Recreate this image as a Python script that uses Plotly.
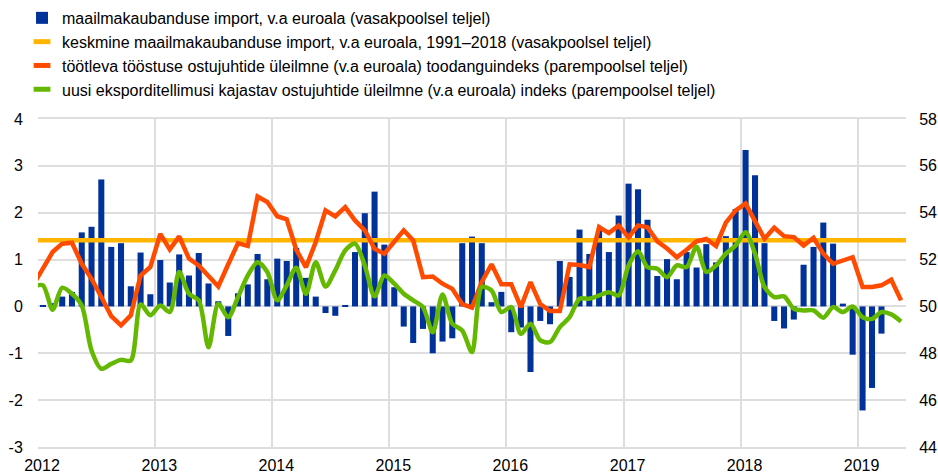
import pandas as pd
import plotly.graph_objects as go

# ---------------- data ----------------
bar_months = pd.date_range("2012-01-01", "2019-03-01", freq="MS").strftime("%Y-%m-%d").tolist()
line_months = pd.date_range("2011-12-01", "2019-05-01", freq="MS").strftime("%Y-%m-%d").tolist()

world_imports = [
    0.02, 0.07, 0.21, 0.31, 1.58, 1.70, 2.71, 1.27, 1.35, 0.43, 1.15, 0.26,
    0.99, 0.51, 1.11, 0.66, 1.14, 0.49, 0.11, -0.63, 0.28, 0.47, 1.12, 0.58,
    1.02, 0.97, 1.25, 0.61, 0.21, -0.14, -0.20, 0.02, 1.16, 1.99, 2.45, 1.32,
    0.41, -0.43, -0.78, -0.48, -1.00, -0.75, -0.68, 1.35, 1.49, 1.35, 0.09, 0.31,
    -0.55, -0.45, -1.40, -0.31, -0.38, 0.97, 0.63, 1.64, 1.12, 1.62, 1.16, 1.94,
    2.62, 2.50, 1.85, 0.65, 1.01, 0.58, 1.16, 0.83, 1.33, 0.94, 1.50, 2.08,
    3.34, 2.80, 1.35, -0.31, -0.47, -0.28, 0.89, 1.27, 1.79, 1.34, 0.06, -1.03,
    -2.22, -1.74, -0.58,
]

avg_imports = 1.41
avg_span = ["2012-01-01", "2019-06-01"]

pmi_output = [
    50.90,
    51.61, 52.32, 52.68, 52.72, 51.82, 51.18, 50.40, 49.59, 49.19, 49.62, 51.32, 51.68,
    53.10, 52.43, 52.99, 52.04, 51.75, 51.28, 50.85, 51.80, 52.70, 52.58, 54.69, 54.46,
    53.85, 53.72, 52.43, 51.67, 52.75, 54.10, 53.84, 54.24, 53.67, 53.25, 52.46, 52.25,
    52.75, 53.25, 52.82, 51.25, 51.28, 50.97, 50.75, 50.10, 49.95, 51.05, 51.80, 50.95,
    50.95, 49.97, 51.04, 50.10, 49.80, 49.80, 51.80, 51.77, 51.68, 53.39, 53.13, 53.45,
    52.95, 53.46, 53.38, 52.78, 52.47, 52.10, 52.42, 52.78, 52.88, 52.58, 53.58, 54.10,
    54.39, 53.60, 52.89, 53.36, 53.00, 52.96, 52.60, 52.93, 52.25, 51.82, 51.94, 52.10,
    50.83, 50.83, 50.90, 51.14, 50.26,
]

pmi_export_orders = [
    50.85,
    50.90, 49.86, 50.80, 50.54, 50.04, 48.12, 47.34, 47.55, 47.72, 47.69, 50.09, 49.62,
    50.04, 49.76, 51.47, 50.54, 50.26, 48.26, 50.11, 49.54, 50.40, 51.32, 51.89, 51.47,
    50.26, 50.90, 51.65, 50.54, 51.89, 50.85, 51.54, 52.39, 52.68, 51.75, 50.43, 51.32,
    50.97, 50.54, 50.26, 49.97, 48.90, 50.51, 49.26, 48.97, 48.05, 50.83, 50.68, 49.76,
    49.97, 48.83, 49.26, 48.55, 48.48, 49.12, 49.54, 50.33, 50.33, 50.47, 50.61, 50.47,
    51.75, 52.36, 51.68, 51.61, 51.25, 51.75, 51.68, 52.55, 51.47, 51.75, 52.25, 52.60,
    53.17, 52.25, 50.83, 50.40, 50.43, 49.90, 49.83, 49.83, 49.52, 49.97, 49.76, 50.00,
    49.54, 49.47, 49.76, 49.66, 49.36,
]

year_ticks = [f"{y}-01-01" for y in range(2012, 2020)]
year_labels = [str(y) for y in range(2012, 2020)]
left_ticks = list(range(-3, 5))
left_labels = [str(v) for v in left_ticks]
right_ticks = list(range(44, 59, 2))
right_labels = [str(v) for v in right_ticks]

names = [
    "maailmakaubanduse import, v.a euroala (vasakpoolsel teljel)",
    "keskmine maailmakaubanduse import, v.a euroala, 1991–2018 (vasakpoolsel teljel)",
    "töötleva tööstuse ostujuhtide üleilmne (v.a euroala) toodanguindeks (parempoolsel teljel)",
    "uusi eksporditellimusi kajastav ostujuhtide üleilmne (v.a euroala) indeks (parempoolsel teljel)",
]

BLUE = "#003299"
YELLOW = "#FFB400"
ORANGE = "#FF4B00"
GREEN = "#65B800"
GRID = "#dedede"
CLEAR = "rgba(0,0,0,0)"
FONT = "Liberation Sans, Arial, sans-serif"
W, H = 938, 475

fig = go.Figure()

fig.add_trace(go.Bar(
    x=bar_months, y=world_imports, xperiod="M1", xperiodalignment="middle",
    marker=dict(color=BLUE, line=dict(width=0)), name=names[0],
    legendgroup="g0", yaxis="y",
))

fig.add_trace(go.Scatter(
    x=avg_span, y=[avg_imports, avg_imports], mode="lines",
    line=dict(color=YELLOW, width=4.5), showlegend=False, yaxis="y",
    hoverinfo="skip",
))

fig.add_trace(go.Scatter(
    x=line_months, y=pmi_output, xperiod="M1", xperiodalignment="middle",
    mode="lines", line=dict(color=ORANGE, width=4.5), showlegend=False,
    yaxis="y2",
))

fig.add_trace(go.Scatter(
    x=line_months, y=pmi_export_orders, xperiod="M1", xperiodalignment="middle",
    mode="lines", line=dict(color=GREEN, width=4.5, shape="spline", smoothing=0.8),
    showlegend=False, yaxis="y2",
))

# legend entries for the lines (short segments like the original)
for i, c in zip([1, 2, 3], [YELLOW, ORANGE, GREEN]):
    fig.add_trace(go.Scatter(
        x=[None], y=[None], mode="markers", name=names[i], legendgroup=f"g{i}",
        marker=dict(symbol="line-ew", size=12, line=dict(width=5, color=c)),
        yaxis="y2" if i > 1 else "y",
    ))

plot_top, plot_bottom = 119, 447
ydomain = [(H - plot_bottom) / H, (H - plot_top) / H]

fig.update_layout(
    width=W, height=H,
    margin=dict(l=38, r=32, t=0, b=0, autoexpand=False),
    paper_bgcolor="white", plot_bgcolor="white",
    font=dict(family=FONT, size=16, color="black"),
    bargap=0.36,
    showlegend=True,
    legend=dict(
        x=-0.0184, y=0.998, xanchor="left", yanchor="top",
        font=dict(family=FONT, size=16, color="black"),
        bgcolor="rgba(0,0,0,0)", traceorder="normal",
        itemwidth=30,
    ),
    xaxis=dict(
        type="date", range=avg_span, tickvals=year_ticks, ticktext=year_labels,
        showgrid=True, gridcolor=GRID, gridwidth=2,
        showline=True, mirror=True, linecolor=GRID, linewidth=2,
        ticks="outside", ticklen=3, tickcolor=CLEAR, ticklabelshift=4,
        tickfont=dict(size=16), zeroline=False, automargin=False,
        anchor="y",
    ),
    yaxis=dict(
        domain=ydomain,
        range=[-3, 4], tickvals=left_ticks, ticktext=left_labels,
        showgrid=True, gridcolor=GRID,
        gridwidth=2, zeroline=False, ticks="outside", ticklen=11, tickcolor=CLEAR,
        tickfont=dict(size=16), automargin=False,
    ),
    yaxis2=dict(
        range=[44, 58], tickvals=right_ticks, ticktext=right_labels,
        overlaying="y", side="right",
        showgrid=False, zeroline=False, ticks="outside", ticklen=9, tickcolor=CLEAR,
        tickfont=dict(size=16), automargin=False,
    ),
)

# the page body's default 8px margin would shift the figure; remove it
fig.write_html(
    "out.html",
    config={"displayModeBar": False},
    post_script="document.body.style.margin='0px';",
)
